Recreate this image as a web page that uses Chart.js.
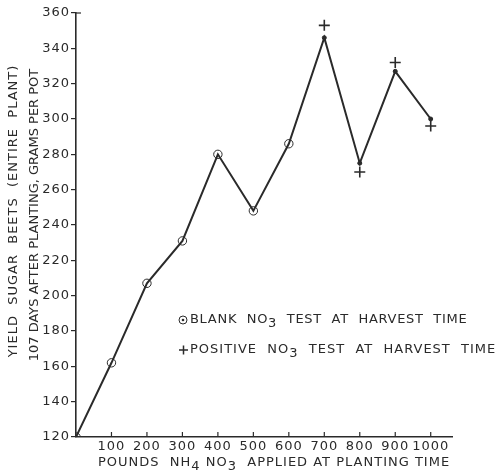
<!DOCTYPE html>
<html>
<head>
<meta charset="utf-8">
<script src="https://cdn.jsdelivr.net/npm/chart.js@4.4.1/dist/chart.umd.min.js"></script>
<style>
html,body{margin:0;padding:0;background:#fff;}
#wrap{width:497px;height:473px;position:relative;}
</style>
</head>
<body>
<div id="wrap"><canvas id="c" width="497" height="473"></canvas></div>
<script>
// ---- data ----
const poundsApplied = [0, 100, 200, 300, 400, 500, 600, 700, 800, 900, 1000];
const yieldGrams    = [120, 162, 207, 231, 280, 248, 286, 346, 275, 327, 300];
const no3Test       = ['blank','blank','blank','blank','blank','blank','blank','positive','positive','positive','positive'];
const positivePounds = [700, 800, 900, 1000];
const positiveMarks  = [353, 270, 332, 296];
const xTickValues = [100, 200, 300, 400, 500, 600, 700, 800, 900, 1000];
const yTickValues = [120, 140, 160, 180, 200, 220, 240, 260, 280, 300, 320, 340, 360];
const yTitleLines = ['YIELD  SUGAR  BEETS  (ENTIRE  PLANT)', '107 DAYS AFTER PLANTING, GRAMS PER POT'];
const legendBlank = ['BLANK  NO', '3', '  TEST  AT  HARVEST  TIME'];
const legendPositive = ['POSITIVE  NO', '3', '  TEST  AT  HARVEST  TIME'];
const xTitleParts = ['POUNDS  NH', '4', ' NO', '3', '  APPLIED AT PLANTING TIME'];

const INK = '#2a2a2a';
const FONT = '"DejaVu Sans", sans-serif';

const mainData = poundsApplied.map((x, i) => ({x: x, y: yieldGrams[i]}));
const plusData = positivePounds.map((x, i) => ({x: x, y: positiveMarks[i]}));

function drawParts(ctx, parts, x, y, size) {
  let cx = x;
  parts.forEach((p, i) => {
    const sub = /^[0-9]$/.test(p) && i > 0;
    ctx.font = size + 'px ' + FONT;
    ctx.fillText(p, cx, sub ? y + 4 : y);
    cx += ctx.measureText(p).width;
  });
}

const extras = {
  id: 'extras',
  beforeDraw(chart) {
    chart.ctx.letterSpacing = '1px';
  },
  afterDraw(chart) {
    const ctx = chart.ctx;
    const xs = chart.scales.x, ys = chart.scales.y;
    ctx.save();
    ctx.strokeStyle = INK;
    ctx.lineWidth = 1.2;
    // inward x ticks
    xTickValues.forEach(v => {
      const px = xs.getPixelForValue(v);
      ctx.beginPath();
      ctx.moveTo(px, ys.bottom);
      ctx.lineTo(px, ys.bottom - 5);
      ctx.stroke();
    });
    // small tick right at top
    ctx.beginPath();
    ctx.moveTo(xs.left, ys.getPixelForValue(360));
    ctx.lineTo(xs.left + 5, ys.getPixelForValue(360));
    ctx.stroke();

    ctx.fillStyle = INK;
    ctx.textBaseline = 'middle';
    // y title
    ctx.save();
    ctx.letterSpacing = '1px';
    ctx.translate(14, 211);
    ctx.rotate(-Math.PI / 2);
    ctx.textAlign = 'center';
    ctx.font = '13px ' + FONT;
    ctx.fillText(yTitleLines[0], 0, 0);
    ctx.restore();
    ctx.save();
    ctx.letterSpacing = '0px';
    ctx.translate(35, 215);
    ctx.rotate(-Math.PI / 2);
    ctx.textAlign = 'center';
    ctx.font = '13px ' + FONT;
    ctx.fillText(yTitleLines[1], 0, 0);
    ctx.restore();

    ctx.textAlign = 'left';
    // x title
    ctx.letterSpacing = '1px';
    drawParts(ctx, xTitleParts, 98, 463, 13);
    // legend
    ctx.beginPath();
    ctx.arc(183, 320, 4, 0, Math.PI * 2);
    ctx.lineWidth = 1;
    ctx.stroke();
    ctx.beginPath();
    ctx.arc(183, 320, 1.3, 0, Math.PI * 2);
    ctx.fill();
    ctx.letterSpacing = '0.7px';
    drawParts(ctx, legendBlank, 190, 320, 13);
    ctx.lineWidth = 1.5;
    ctx.beginPath();
    ctx.moveTo(179, 350); ctx.lineTo(188, 350);
    ctx.moveTo(183.5, 345.5); ctx.lineTo(183.5, 354.5);
    ctx.stroke();
    ctx.letterSpacing = '1px';
    drawParts(ctx, legendPositive, 190, 350, 13);
    ctx.restore();
  }
};

new Chart(document.getElementById('c'), {
  type: 'scatter',
  data: {
    datasets: [
      {
        data: mainData,
        showLine: true,
        borderColor: INK,
        borderWidth: 2,
        tension: 0,
        pointStyle: 'circle',
        pointRadius: no3Test.map(t => t === 'blank' ? 4.2 : 2),
        pointBorderWidth: 1,
        pointBorderColor: INK,
        pointBackgroundColor: no3Test.map(t => t === 'blank' ? 'rgba(0,0,0,0)' : INK)
      },
      {
        data: plusData,
        showLine: false,
        pointStyle: 'cross',
        pointRadius: 5.5,
        pointBorderWidth: 1.6,
        pointBorderColor: INK
      }
    ]
  },
  options: {
    responsive: false,
    animation: false,
    events: [],
    layout: {padding: {top: 13, right: 45, left: 0, bottom: 0}},
    plugins: {legend: {display: false}, tooltip: {enabled: false}},
    scales: {
      x: {
        type: 'linear',
        min: 0, max: 1060,
        afterBuildTicks(scale) { scale.ticks = xTickValues.map(v => ({value: v})); },
        afterFit(scale) { scale.height = 36; },
        border: {display: true, color: INK, width: 1.6},
        grid: {display: false, drawTicks: false},
        ticks: {color: INK, font: {family: FONT, size: 13}, padding: 2, maxRotation: 0, autoSkip: false,
                callback: v => String(v)}
      },
      y: {
        min: 120, max: 360,
        afterBuildTicks(scale) { scale.ticks = yTickValues.map(v => ({value: v})); },
        afterFit(scale) { scale.width = 76; },
        border: {display: true, color: INK, width: 1.6},
        grid: {drawOnChartArea: false, drawTicks: true, tickLength: 5, color: INK, lineWidth: 1.2},
        ticks: {color: INK, font: {family: FONT, size: 13}, padding: 1, autoSkip: false,
                callback: v => String(v)}
      }
    }
  },
  plugins: [extras]
});
</script>
</body>
</html>
